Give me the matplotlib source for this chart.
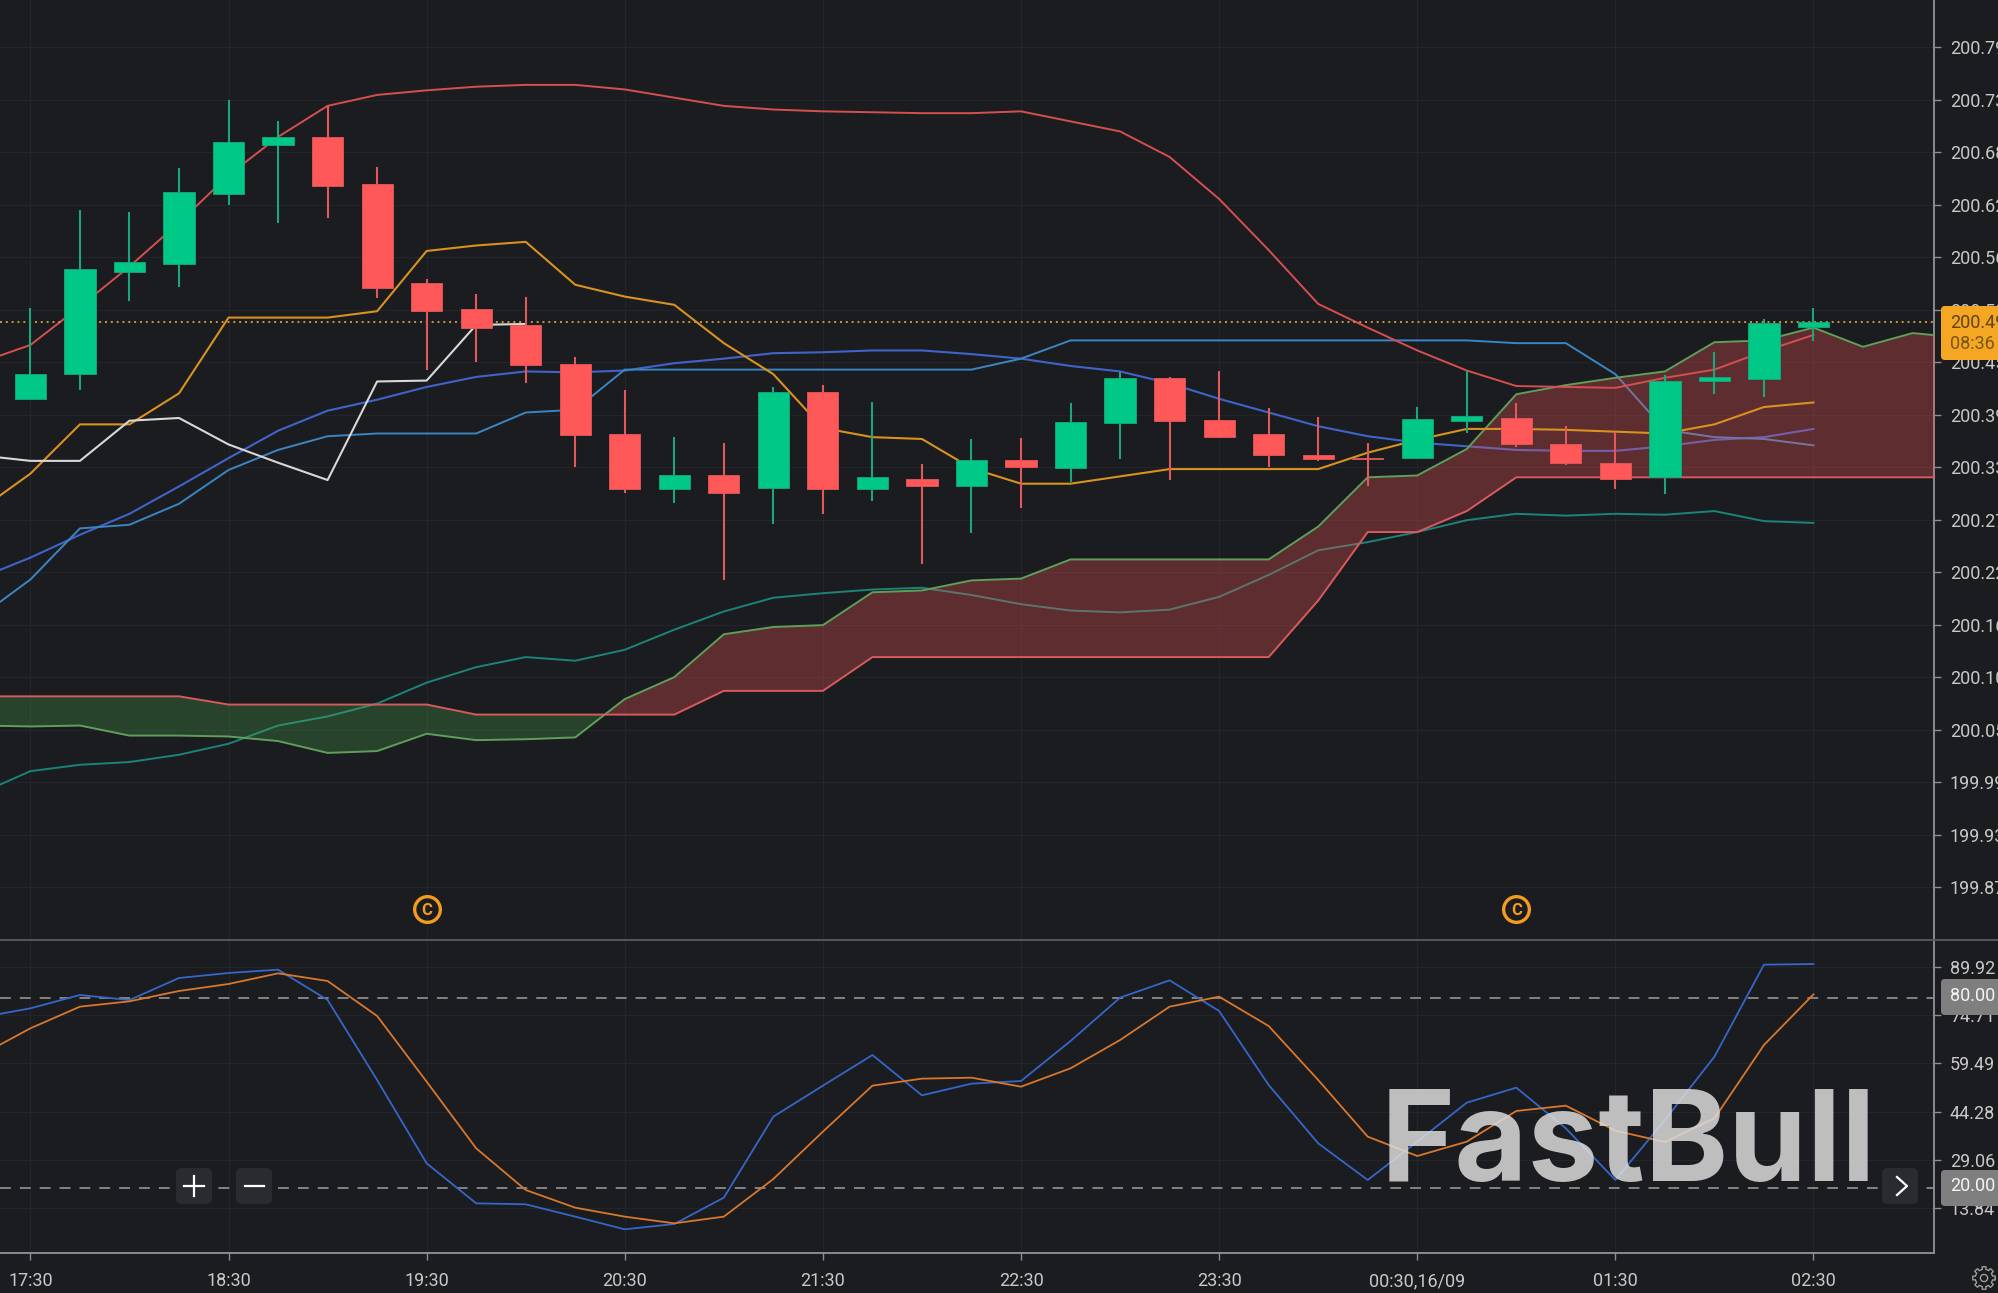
import numpy as np
import matplotlib
matplotlib.use("Agg")
import matplotlib.pyplot as plt
from matplotlib.patches import FancyBboxPatch

# Candles, 15 minute bars from 17:30
opens = [200.405, 200.432, 200.544, 200.553, 200.629, 200.683, 200.692, 200.640, 200.532, 200.503,
         200.486, 200.443, 200.366, 200.306, 200.322, 200.307, 200.412, 200.306, 200.317, 200.310,
         200.338, 200.329, 200.378, 200.428, 200.382, 200.366, 200.343, 200.340, 200.340, 200.381,
         200.384, 200.356, 200.335, 200.319, 200.424, 200.427, 200.484]
highs = [200.505, 200.612, 200.610, 200.658, 200.732, 200.709, 200.726, 200.659, 200.536, 200.520,
         200.517, 200.451, 200.415, 200.363, 200.357, 200.418, 200.420, 200.402, 200.334, 200.361,
         200.362, 200.400, 200.434, 200.429, 200.436, 200.395, 200.385, 200.357, 200.396, 200.436,
         200.400, 200.375, 200.369, 200.431, 200.456, 200.493, 200.505]
lows = [200.404, 200.415, 200.512, 200.527, 200.617, 200.598, 200.603, 200.516, 200.437, 200.445,
        200.422, 200.330, 200.302, 200.291, 200.207, 200.268, 200.279, 200.293, 200.224, 200.258,
        200.285, 200.314, 200.339, 200.316, 200.363, 200.330, 200.337, 200.309, 200.339, 200.368,
        200.352, 200.333, 200.306, 200.301, 200.410, 200.407, 200.468]
closes = [200.432, 200.547, 200.555, 200.632, 200.686, 200.692, 200.638, 200.526, 200.501, 200.483,
          200.442, 200.365, 200.306, 200.322, 200.302, 200.412, 200.306, 200.319, 200.310, 200.338,
          200.330, 200.380, 200.428, 200.381, 200.363, 200.343, 200.339, 200.339, 200.383, 200.386,
          200.356, 200.335, 200.317, 200.425, 200.429, 200.488, 200.489]

# Indicators, first value sits one bar left of the first candle
bb_upper = [200.445, 200.464, 200.506, 200.550, 200.598, 200.650, 200.692, 200.726, 200.738, 200.743,
            200.747, 200.749, 200.749, 200.744, 200.735, 200.726, 200.722, 200.720, 200.719, 200.718,
            200.718, 200.720, 200.709, 200.698, 200.670, 200.624, 200.568, 200.509, 200.483, 200.458,
            200.436, 200.419, 200.418, 200.417, 200.428, 200.437, 200.457, 200.475]
bb_mid = [200.209, 200.231, 200.256, 200.279, 200.309, 200.340, 200.370, 200.392, 200.404, 200.418,
          200.429, 200.435, 200.434, 200.436, 200.444, 200.449, 200.455, 200.456, 200.458, 200.458,
          200.454, 200.449, 200.441, 200.435, 200.422, 200.405, 200.390, 200.375, 200.364, 200.357,
          200.353, 200.349, 200.348, 200.348, 200.353, 200.360, 200.363, 200.372]
bb_lower = [199.973, 199.997, 200.004, 200.007, 200.015, 200.027, 200.047, 200.057, 200.071, 200.094,
            200.111, 200.122, 200.118, 200.130, 200.152, 200.172, 200.187, 200.192, 200.196, 200.198,
            200.190, 200.180, 200.173, 200.171, 200.174, 200.188, 200.212, 200.239, 200.248, 200.259,
            200.272, 200.279, 200.277, 200.279, 200.278, 200.282, 200.271, 200.269]
tenkan = [200.284, 200.323, 200.377, 200.377, 200.411, 200.494, 200.494, 200.494, 200.501, 200.567,
          200.573, 200.577, 200.530, 200.517, 200.508, 200.466, 200.432, 200.373, 200.363, 200.361,
          200.329, 200.312, 200.312, 200.320, 200.328, 200.328, 200.328, 200.328, 200.346, 200.360,
          200.372, 200.372, 200.371, 200.369, 200.367, 200.377, 200.396, 200.401]
kijun = [200.167, 200.207, 200.263, 200.267, 200.290, 200.327, 200.349, 200.364, 200.367, 200.367,
         200.367, 200.390, 200.393, 200.437, 200.437, 200.437, 200.437, 200.437, 200.437, 200.437,
         200.437, 200.449, 200.469, 200.469, 200.469, 200.469, 200.469, 200.469, 200.469, 200.469,
         200.469, 200.466, 200.466, 200.432, 200.371, 200.363, 200.361, 200.354]
chikou = [200.343, 200.337, 200.337, 200.381, 200.384, 200.355, 200.335, 200.316, 200.424, 200.425,
          200.486, 200.487]
span_a = [200.047, 200.046, 200.047, 200.036, 200.036, 200.035, 200.030, 200.017, 200.019, 200.038,
          200.031, 200.032, 200.034, 200.076, 200.100, 200.147, 200.155, 200.157, 200.193, 200.195,
          200.206, 200.208, 200.229, 200.229, 200.229, 200.229, 200.229, 200.265, 200.319, 200.321,
          200.350, 200.410, 200.420, 200.428, 200.435, 200.467, 200.469, 200.483, 200.462, 200.477,
          200.472]
span_b = [200.079, 200.079, 200.079, 200.079, 200.079, 200.070, 200.070, 200.070, 200.070, 200.070,
          200.059, 200.059, 200.059, 200.059, 200.059, 200.085, 200.085, 200.085, 200.122, 200.122,
          200.122, 200.122, 200.122, 200.122, 200.122, 200.122, 200.122, 200.184, 200.259, 200.259,
          200.282, 200.319, 200.319, 200.319, 200.319, 200.319, 200.319, 200.319, 200.319, 200.319,
          200.319]

# Stochastic panel
stoch_k = [74.00, 76.83, 81.04, 79.46, 86.40, 87.98, 89.03, 79.46, 54.23, 27.94,
           15.32, 15.01, 11.12, 7.12, 8.80, 17.11, 42.66, 52.44, 62.11, 49.39,
           53.07, 53.91, 66.53, 80.20, 85.67, 75.99, 52.65, 34.25, 22.68, 34.77,
           47.08, 51.81, 38.98, 22.68, 41.61, 61.59, 90.61, 90.82]
stoch_d = [62.11, 70.53, 77.36, 79.04, 82.30, 84.51, 87.87, 85.46, 74.42, 53.70,
           32.67, 19.53, 13.95, 11.12, 9.01, 11.12, 23.00, 37.93, 52.44, 54.65,
           54.96, 52.12, 57.91, 66.84, 77.36, 80.51, 71.26, 54.23, 36.35, 30.25,
           34.77, 44.45, 46.13, 38.24, 34.67, 42.13, 65.27, 81.25]

price_ticks = [199.87, 199.9275, 199.985, 200.0425, 200.10, 200.1575, 200.215, 200.2725, 200.33,
               200.3875, 200.445, 200.5025, 200.56, 200.6175, 200.675, 200.7325, 200.79]
price_labels = ["199.87", "199.93", "199.99", "200.05", "200.10", "200.16", "200.22", "200.27", "200.33",
                "200.39", "200.45", "200.50", "200.56", "200.62", "200.68", "200.73", "200.79"]
stoch_ticks = [13.84, 29.06, 44.28, 59.49, 74.71, 89.92]
time_pos = [0, 4, 8, 12, 16, 20, 24, 28, 32, 36]
time_labels = ["17:30", "18:30", "19:30", "20:30", "21:30", "22:30", "23:30", "00:30,16/09", "01:30", "02:30"]
signal_pos = [8, 30]

BG = "#1b1c20"
GRID = "#24252a"
AXIS = "#8c8c90"
TEXT = "#c8c8c8"
UP = "#00c887"
DOWN = "#ff5858"
UP_WICK = "#1ba67c"
DOWN_WICK = "#e2595c"

W, H = 1998, 1293
FS = 13
plt.rcParams["font.family"] = ["Roboto", "DejaVu Sans"]

fig = plt.figure(figsize=(W / 100, H / 100), dpi=100, facecolor=BG)
ax = fig.add_axes([0, (H - 940) / H, 1934 / W, 940 / H], facecolor=BG)
ax2 = fig.add_axes([0, (H - 1253) / H, 1934 / W, 313 / H], facecolor=BG)
over = fig.add_axes([0, 0, 1, 1], zorder=10)
over.set_xlim(0, W)
over.set_ylim(H, 0)
over.axis("off")

xlim = (-0.6138, 38.433)
n = len(opens)
idx = np.arange(n)
line_x = np.arange(-1, n)

# --- price panel ---
ax.plot(line_x, bb_mid, color="#3f63c8", lw=1.5, zorder=2)
ax.plot(line_x, kijun, color="#3a86c2", lw=1.4, zorder=2)
ax.plot(line_x, bb_lower, color="#1b8378", lw=1.4, zorder=2)

cloud_x = np.arange(-1, 40)
a = np.array(span_a)
b = np.array(span_b)
ax.fill_between(cloud_x, a, b, where=a >= b, interpolate=True, color="#f25555", alpha=0.31, lw=0, zorder=3)
ax.fill_between(cloud_x, a, b, where=a <= b, interpolate=True, color="#4caf50", alpha=0.27, lw=0, zorder=3)
ax.plot(cloud_x, span_a, color="#5f9f5a", lw=1.4, zorder=3.5)
ax.plot(cloud_x, span_b, color="#d95a5c", lw=1.4, zorder=3.5)

ax.plot(line_x, bb_upper, color="#d64f50", lw=1.4, zorder=3.5)
ax.plot(line_x, tenkan, color="#d9921f", lw=1.5, zorder=3.5)
ax.plot(np.arange(-1, len(chikou) - 1), chikou, color="#d8d8d8", lw=1.5, zorder=3.5)

ax.axhline(closes[-1], color="#c99a3c", lw=1.4, ls=(0, (1, 2)), zorder=3.6)

for i in idx:
    up = closes[i] >= opens[i]
    ax.vlines(i, lows[i], highs[i], color=UP_WICK if up else DOWN_WICK, lw=1.5, zorder=4)
    ax.bar(i, abs(closes[i] - opens[i]), bottom=min(opens[i], closes[i]), width=0.63,
           color=UP if up else DOWN, edgecolor=UP_WICK if up else DOWN_WICK, lw=0.6, zorder=5)

signal_y = 199.846
ax.plot(signal_pos, [signal_y] * len(signal_pos), ls="none", marker="o", ms=18.5, mfc="none",
        mec="#f39c1e", mew=2.4, zorder=5)
for p in signal_pos:
    ax.text(p, signal_y, "C", color="#f39c1e", fontsize=12, fontweight="bold", ha="center",
            va="center_baseline", zorder=5)

ax.set_xlim(*xlim)
ax.set_ylim(199.812, 200.842)
ax.set_yticks(price_ticks)
ax.set_yticklabels(price_labels)
ax.text(1.0083, 200.8475, "200.85", transform=ax.get_yaxis_transform(), color=TEXT, fontsize=FS,
        va="center", clip_on=False)
ax.set_xticks(time_pos)
ax.tick_params(axis="x", length=0, labelbottom=False)

# --- stochastic panel ---
ax2.axhline(80, color="#8b8b8b", lw=1.3, ls=(0, (6, 5)), zorder=2)
ax2.axhline(20, color="#8b8b8b", lw=1.3, ls=(0, (6, 5)), zorder=2)
ax2.plot(line_x, stoch_k, color="#3566c8", lw=1.3, zorder=3)
ax2.plot(line_x, stoch_d, color="#d9772b", lw=1.3, zorder=3)

ax2.set_xlim(*xlim)
ax2.set_ylim(-0.35, 98.39)
ax2.set_yticks(stoch_ticks)
ax2.set_yticklabels([f"{v:.2f}" for v in stoch_ticks])
ax2.set_xticks(time_pos)
ax2.set_xticklabels(time_labels)

for a_ in (ax, ax2):
    a_.yaxis.tick_right()
    a_.grid(True, color=GRID, lw=0.8)
    a_.set_axisbelow(True)
    a_.tick_params(axis="y", length=5, width=1, color=AXIS, labelcolor=TEXT, labelsize=FS, pad=6.5)
    for s in ("top", "left", "bottom"):
        a_.spines[s].set_visible(False)
    a_.spines["right"].set_color(AXIS)
    a_.spines["right"].set_linewidth(1.4)

ax2.spines["bottom"].set_visible(True)
ax2.spines["bottom"].set_color(AXIS)
ax2.spines["bottom"].set_linewidth(1.4)
ax2.tick_params(axis="x", length=5, width=1, color=AXIS, labelcolor=TEXT, labelsize=FS, pad=9)

# --- overlay: panel divider, tags, buttons, watermark ---
over.plot([0, W], [940, 940], color="#56575a", lw=1.4)


def tag(x0, y0, x1, y1, color, round_px=4, z=11):
    box = FancyBboxPatch((x0 + round_px, y0 + round_px), x1 - x0 - 2 * round_px, y1 - y0 - 2 * round_px,
                         boxstyle=f"round,pad={round_px}", fc=color, ec="none", zorder=z)
    over.add_patch(box)


tag(1941, 306, 2010, 360, "#f5a623")
over.text(1950, 323, "200.49", color="#5f4310", fontsize=FS, va="center", zorder=12)
over.text(1950, 344, "08:36", color="#7a5716", fontsize=FS, va="center", zorder=12)
tag(1941, 979, 2010, 1015, "#7f7f7f")
over.text(1950, 996, "80.00", color="#f4f4f4", fontsize=FS, va="center", zorder=12)
tag(1941, 1170, 2010, 1206, "#7f7f7f")
over.text(1950, 1186, "20.00", color="#f4f4f4", fontsize=FS, va="center", zorder=12)

over.text(1381, 1181, "FastBull", color="#dcdcdc", alpha=0.85, fontsize=91, fontweight="bold",
          family=["Inter", "DejaVu Sans"], va="baseline", ha="left", zorder=6)

tag(176, 1168, 212, 1204, "#2a2b30", round_px=6)
over.plot([184, 204], [1186, 1186], color="white", lw=1.6, zorder=12)
over.plot([194, 194], [1176, 1196], color="white", lw=1.6, zorder=12)
tag(236, 1168, 272, 1204, "#2a2b30", round_px=6)
over.plot([245, 264], [1186, 1186], color="white", lw=1.6, zorder=12)
tag(1882, 1168, 1918, 1204, "#2a2b30", round_px=6)
over.plot([1897, 1907, 1897], [1177, 1186, 1195], color="white", lw=1.6, zorder=12)

# settings gear
t = np.linspace(0, 2 * np.pi, 200)
r = 10 + 1.3 * np.sign(np.cos(8 * t))
over.plot(1984 + r * np.cos(t), 1278 + r * np.sin(t), color="#a8a8a8", lw=0.9, zorder=12)
over.plot(1984 + 3.6 * np.cos(t), 1278 + 3.6 * np.sin(t), color="#a8a8a8", lw=0.9, zorder=12)

fig.savefig("out.png", dpi=100, facecolor=BG)
